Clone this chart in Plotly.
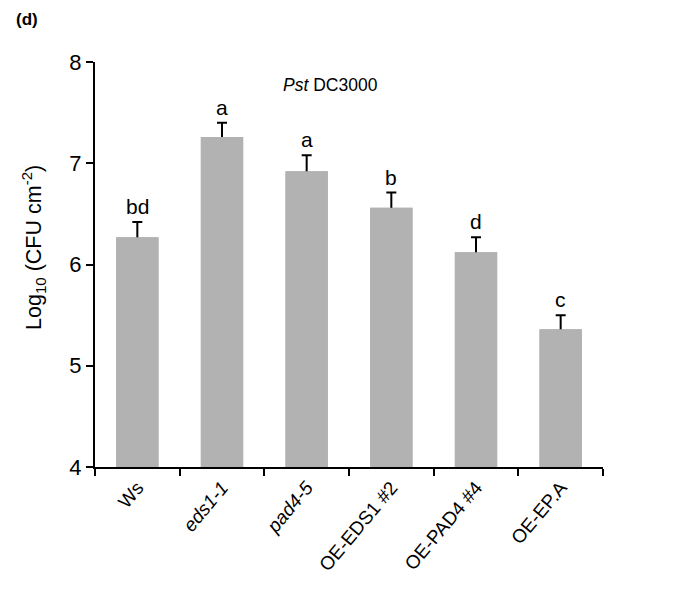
import plotly.graph_objects as go

categories = ["Ws", "<i>eds1-1</i>", "<i>pad4-5</i>", "OE-EDS1 #2", "OE-PAD4 #4", "OE-EP.A"]
values = [6.27, 7.26, 6.92, 6.56, 6.12, 5.36]
errors = [0.15, 0.14, 0.16, 0.15, 0.15, 0.14]
letters = ["bd", "a", "a", "b", "d", "c"]

FONT = "Liberation Sans, Arial, sans-serif"
BAR = "#b2b2b2"

fig = go.Figure()
# error bars (lower half hidden behind the bars drawn next)
fig.add_trace(go.Bar(
    x=categories, y=values, width=0.5,
    marker=dict(color=BAR, line=dict(width=0)),
    error_y=dict(type="data", array=errors, color="black", thickness=2, width=5),
    showlegend=False, hoverinfo="skip",
))
fig.add_trace(go.Bar(
    x=categories, y=values, width=0.5,
    marker=dict(color=BAR, line=dict(width=0)),
    showlegend=False,
))

for c, v, e, t in zip(categories, values, errors, letters):
    fig.add_annotation(x=c, y=v + e, text=t, showarrow=False, yanchor="bottom", yshift=2,
                       font=dict(family=FONT, size=21, color="black"))

fig.add_annotation(xref="paper", yref="paper", x=0.463, y=0.943, xanchor="center", yanchor="middle",
                   text="<i>Pst</i> DC3000",
                   showarrow=False, font=dict(family=FONT, size=17.5, color="black"))
fig.add_annotation(xref="paper", yref="paper", x=-0.159, y=1.104, xanchor="left", yanchor="middle",
                   text="<b>(d)</b>", showarrow=False, font=dict(family=FONT, size=17, color="black"))
fig.add_annotation(xref="paper", yref="paper", x=-0.12, y=0.541, xanchor="center", yanchor="middle",
                   textangle=-90, text="Log<sub>10</sub> (CFU cm<sup>-2</sup>)", showarrow=False,
                   font=dict(family=FONT, size=21.5, color="black"))

fig.update_layout(
    width=672, height=581,
    margin=dict(l=87, r=77, t=54, b=122),
    plot_bgcolor="white", paper_bgcolor="white",
    font=dict(family=FONT, color="black"),
    barmode="overlay",
    xaxis=dict(range=[-0.5, 5.5], showline=True, linecolor="black", linewidth=2,
               ticks="outside", tickson="boundaries", ticklen=7, tickwidth=2, tickcolor="black",
               tickangle=-50, tickfont=dict(size=19, family=FONT), showgrid=False),
    yaxis=dict(range=[4, 8], showline=True, linecolor="black", linewidth=2,
               ticks="outside", ticklen=7, tickwidth=2, tickcolor="black",
               tickvals=[4, 5, 6, 7, 8], tickfont=dict(size=22, family=FONT), showgrid=False,
               zeroline=False),
)

fig.write_html("out.html")
